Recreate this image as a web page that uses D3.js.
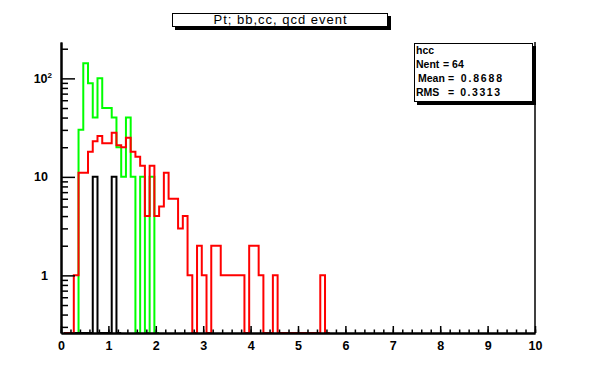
<!DOCTYPE html>
<html><head><meta charset="utf-8">
<script src="https://cdn.jsdelivr.net/npm/d3@7"></script>
<style>body{margin:0;background:#fff} svg{display:block}</style>
</head><body><svg id="c" width="596" height="372"></svg>
<script>
// ---- data ----
const binStart = 0.07, binWidth = 0.1;
const greenCounts = [0,0,0,30,142,89,40,100,50,50,40,20,10,40,10,0,10,0,10,0];
const redCounts = [0,0,1,11,11,18,23,26,22,22,28,21,20,25,18,16,13,4,13,4,
                   5,11,6,6,3,4,1,0,2,1,0,2,2,1,1,1,1,1,0,2,
                   2,1,0,0,1,0,0,0,0,0,0,0,0,0,1,0];
const blackCounts = [0,0,0,0,0,0,10,0,0,0,10,0];
const xMajorTicks = [0,1,2,3,4,5,6,7,8,9,10];
const xMinorTicks = d3.range(0,10.001,0.2);
const yMajorTicks = [1,10,100];
const yMinorTicks = [0.3,0.4,0.5,0.6,0.7,0.8,0.9,2,3,4,5,6,7,8,9,20,30,40,50,60,70,80,90,200];
const titleText = "Pt; bb,cc, qcd event";
const statsName = "hcc";
const statsLabels = ["Nent","Mean","RMS"];
const statsValues = ["64","0.8688","0.3313"];

// ---- layout ----
const svg = d3.select("#c");
const L = 61, R = 535, T = 42, B = 333;
const x = d3.scaleLinear().domain([0,10]).range([L,R]);
const y = d3.scaleLog().domain([0.26,234]).range([B,T]);
const font = "'Liberation Sans', Arial, sans-serif";

svg.append("rect").attr("width",596).attr("height",372).attr("fill","#fff");

svg.append("clipPath").attr("id","fr").append("rect")
  .attr("x",L).attr("y",T).attr("width",R-L).attr("height",B-T+2);

function stepPath(counts){
  const pts = [];
  const y0 = B;
  pts.push([x(binStart), y0]);
  counts.forEach((c,i)=>{
    const yy = c>0 ? y(c) : y0;
    pts.push([x(binStart+i*binWidth), yy]);
    pts.push([x(binStart+(i+1)*binWidth), yy]);
  });
  pts.push([x(binStart+counts.length*binWidth), y0]);
  return d3.line()(pts);
}
const hg = svg.append("g").attr("clip-path","url(#fr)");
[[greenCounts,"#00ff00"],[blackCounts,"#000000"],[redCounts,"#ff0000"]].forEach(([c,col])=>{
  hg.append("path").attr("d",stepPath(c)).attr("fill","none")
    .attr("stroke",col).attr("stroke-width",2).attr("stroke-linejoin","miter");
});

// axes
const xMinor = d3.axisBottom(x).tickValues(xMinorTicks).tickSize(-3.5).tickSizeOuter(0).tickFormat("");
const xMajor = d3.axisBottom(x).tickValues(xMajorTicks).tickSize(-7).tickSizeOuter(0).tickPadding(8).tickFormat(d3.format("d"));
const yMinor = d3.axisLeft(y).tickValues(yMinorTicks).tickSize(-7).tickSizeOuter(0).tickFormat("");
const yMajor = d3.axisLeft(y).tickValues(yMajorTicks).tickSize(-14).tickSizeOuter(0).tickPadding(13).tickFormat(d=> d===100 ? "10" : String(d));

function style(g){
  g.select(".domain").attr("stroke","#000").attr("stroke-width",2);
  g.selectAll(".tick line").attr("stroke","#000").attr("stroke-width",1.5);
  g.selectAll("text").attr("font-family",font).attr("font-size",12.5).attr("font-weight","bold").attr("fill","#000");
}
svg.append("g").attr("transform",`translate(0,${B})`).call(xMinor).call(style);
svg.append("g").attr("transform",`translate(0,${B})`).call(xMajor).call(style);
svg.append("g").attr("transform",`translate(${L},0)`).call(yMinor).call(style);
const ya = svg.append("g").attr("transform",`translate(${L},0)`).call(yMajor).call(style);
ya.selectAll(".tick").filter(d=>d===100).select("text")
  .attr("x",-9).append("tspan").attr("dy",-5).attr("font-size",8).text("2");

// right frame line
svg.append("line").attr("x1",R).attr("x2",R).attr("y1",T).attr("y2",B)
  .attr("stroke","#000").attr("stroke-width",1.5);

// title box
svg.append("rect").attr("x",175).attr("y",16).attr("width",216).attr("height",14).attr("fill","#000");
svg.append("rect").attr("x",172.5).attr("y",13.5).attr("width",215).attr("height",13).attr("fill","#fff").attr("stroke","#000").attr("stroke-width",1);
svg.append("text").attr("x",280).attr("y",24).attr("text-anchor","middle")
  .attr("font-family",font).attr("font-size",13).attr("textLength",133).attr("lengthAdjust","spacing")
  .text(titleText);

// stats box
svg.append("rect").attr("x",417).attr("y",46).attr("width",119).attr("height",59).attr("fill","#000");
svg.append("rect").attr("x",414.5).attr("y",43.5).attr("width",118).attr("height",58).attr("fill","#fff").attr("stroke","#000").attr("stroke-width",1);
const st = svg.append("g").attr("font-family",font).attr("font-size",10.5).attr("font-weight","bold");
st.append("text").attr("x",416).attr("y",54).text(statsName);
const rowsY = [68,81.5,95.5];
const labX = [416,418,416], eqX = [443,448,448], endX = [null,502,500];
statsLabels.forEach((l,i)=>{
  st.append("text").attr("x",labX[i]).attr("y",rowsY[i]).text(l);
  const t = st.append("text").attr("x",eqX[i]).attr("y",rowsY[i]).text("= "+statsValues[i]);
  if (endX[i]) t.attr("textLength",endX[i]-eqX[i]).attr("lengthAdjust","spacing");
});
</script></body></html>
